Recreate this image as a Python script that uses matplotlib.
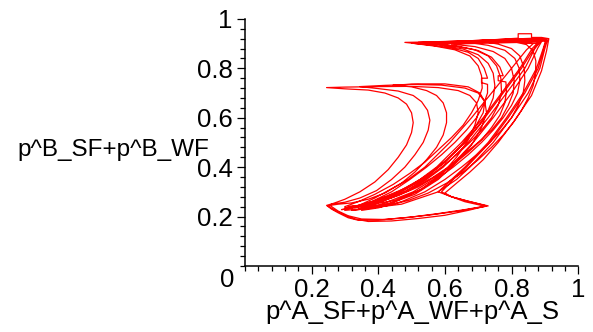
import matplotlib
matplotlib.use("Agg")
import matplotlib.pyplot as plt
from matplotlib.ticker import MultipleLocator

plt.rcParams['font.family'] = ['Liberation Sans', 'DejaVu Sans']

# trajectory, one list of (x, y) points per lap
lap1 = [(0.30, 0.225), (0.36, 0.232), (0.47, 0.25), (0.58, 0.30), (0.635, 0.35), (0.675, 0.40),
        (0.745, 0.50), (0.80, 0.60), (0.85, 0.70), (0.885, 0.80), (0.90, 0.88), (0.908, 0.915),
        (0.88, 0.92), (0.80, 0.917), (0.70, 0.913), (0.60, 0.908), (0.48, 0.905),
        (0.55, 0.895), (0.62, 0.883), (0.67, 0.865), (0.70, 0.84), (0.718, 0.80), (0.728, 0.76),
        (0.71, 0.76), (0.71, 0.742), (0.728, 0.735), (0.728, 0.70), (0.715, 0.65), (0.695, 0.60),
        (0.665, 0.55), (0.63, 0.50), (0.59, 0.45), (0.545, 0.40), (0.495, 0.35), (0.44, 0.30),
        (0.38, 0.26), (0.33, 0.24)]
lap2 = [(0.33, 0.24), (0.37, 0.24), (0.41, 0.25), (0.505, 0.30), (0.565, 0.35), (0.615, 0.40),
        (0.685, 0.50), (0.745, 0.60), (0.80, 0.70), (0.85, 0.80), (0.878, 0.88), (0.89, 0.908),
        (0.85, 0.912), (0.76, 0.908), (0.66, 0.904), (0.56, 0.90),
        (0.63, 0.89), (0.69, 0.875), (0.73, 0.85), (0.755, 0.81), (0.768, 0.76), (0.77, 0.70),
        (0.76, 0.65), (0.74, 0.60), (0.71, 0.55), (0.675, 0.50), (0.635, 0.45), (0.59, 0.40),
        (0.54, 0.35), (0.48, 0.30), (0.42, 0.265), (0.36, 0.245)]
lap3 = [(0.36, 0.245), (0.45, 0.265), (0.53, 0.31), (0.59, 0.37), (0.635, 0.44), (0.67, 0.51),
        (0.69, 0.57), (0.70, 0.62), (0.695, 0.66), (0.675, 0.69), (0.64, 0.71), (0.58, 0.722),
        (0.50, 0.727), (0.40, 0.726), (0.30, 0.724), (0.245, 0.722),
        (0.30, 0.717), (0.37, 0.712), (0.42, 0.70), (0.46, 0.68), (0.485, 0.655), (0.50, 0.62),
        (0.505, 0.58), (0.50, 0.54), (0.485, 0.49), (0.46, 0.44), (0.43, 0.39), (0.39, 0.34),
        (0.345, 0.30), (0.30, 0.27), (0.265, 0.253), (0.245, 0.245),
        (0.26, 0.23), (0.28, 0.215), (0.31, 0.195), (0.34, 0.185), (0.40, 0.186), (0.48, 0.195),
        (0.56, 0.207), (0.64, 0.222), (0.73, 0.243), (0.67, 0.262), (0.62, 0.28), (0.60, 0.295)]
lap4 = [(0.60, 0.295), (0.635, 0.335), (0.675, 0.38), (0.715, 0.43), (0.76, 0.50), (0.81, 0.59),
        (0.86, 0.69), (0.89, 0.79), (0.905, 0.87), (0.912, 0.92),
        (0.89, 0.925), (0.86, 0.925), (0.86, 0.94), (0.82, 0.94), (0.82, 0.922), (0.76, 0.917),
        (0.70, 0.912), (0.76, 0.898), (0.80, 0.88), (0.825, 0.85), (0.838, 0.80), (0.84, 0.75),
        (0.835, 0.70), (0.82, 0.65), (0.80, 0.60), (0.77, 0.55), (0.735, 0.50), (0.695, 0.45),
        (0.65, 0.40), (0.60, 0.35), (0.54, 0.30), (0.47, 0.26), (0.40, 0.235), (0.35, 0.225)]
lap5 = [(0.35, 0.225), (0.43, 0.25), (0.51, 0.29), (0.58, 0.35), (0.635, 0.42), (0.68, 0.49),
        (0.71, 0.56), (0.725, 0.62), (0.72, 0.665), (0.70, 0.70), (0.66, 0.72), (0.59, 0.732),
        (0.50, 0.735), (0.42, 0.731), (0.345, 0.726),
        (0.40, 0.718), (0.46, 0.708), (0.505, 0.69), (0.53, 0.665), (0.548, 0.63), (0.555, 0.59),
        (0.55, 0.55), (0.535, 0.50), (0.51, 0.45), (0.48, 0.40), (0.44, 0.35), (0.395, 0.305),
        (0.345, 0.275), (0.30, 0.258), (0.26, 0.25), (0.25, 0.242),
        (0.27, 0.225), (0.30, 0.205), (0.33, 0.19), (0.37, 0.18), (0.44, 0.182), (0.52, 0.192),
        (0.60, 0.205), (0.67, 0.225), (0.725, 0.243), (0.67, 0.262), (0.62, 0.28), (0.58, 0.30)]
lap6 = [(0.58, 0.30), (0.62, 0.35), (0.66, 0.40), (0.73, 0.50), (0.785, 0.60), (0.835, 0.70),
        (0.875, 0.80), (0.895, 0.88), (0.903, 0.915),
        (0.85, 0.918), (0.76, 0.913), (0.66, 0.907),
        (0.73, 0.893), (0.78, 0.873), (0.81, 0.84), (0.823, 0.80), (0.825, 0.75), (0.818, 0.70),
        (0.80, 0.65), (0.775, 0.60), (0.745, 0.55), (0.71, 0.50), (0.67, 0.45), (0.625, 0.40),
        (0.575, 0.35), (0.515, 0.30), (0.45, 0.26), (0.39, 0.24), (0.34, 0.23)]
lap7 = [(0.34, 0.23), (0.40, 0.26), (0.47, 0.30), (0.54, 0.355), (0.60, 0.42), (0.65, 0.49),
        (0.69, 0.56), (0.715, 0.62), (0.72, 0.665), (0.705, 0.70), (0.67, 0.725), (0.60, 0.737),
        (0.52, 0.737), (0.445, 0.732),
        (0.50, 0.725), (0.545, 0.71), (0.575, 0.69), (0.595, 0.66), (0.605, 0.62), (0.605, 0.58),
        (0.595, 0.53), (0.575, 0.48), (0.545, 0.43), (0.51, 0.38), (0.47, 0.335), (0.42, 0.295),
        (0.37, 0.27), (0.32, 0.255), (0.28, 0.25), (0.255, 0.245),
        (0.28, 0.222), (0.31, 0.203), (0.35, 0.19), (0.42, 0.188), (0.50, 0.198), (0.58, 0.212),
        (0.66, 0.228), (0.72, 0.242), (0.66, 0.26), (0.61, 0.285), (0.59, 0.30)]
lap8 = [(0.59, 0.30), (0.625, 0.35), (0.665, 0.40), (0.735, 0.50), (0.79, 0.60), (0.84, 0.70),
        (0.88, 0.80), (0.897, 0.88), (0.905, 0.918),
        (0.87, 0.922), (0.79, 0.918), (0.68, 0.912), (0.58, 0.908), (0.52, 0.905),
        (0.59, 0.894), (0.655, 0.878), (0.70, 0.855), (0.73, 0.82), (0.745, 0.78), (0.75, 0.73),
        (0.745, 0.68), (0.73, 0.63), (0.71, 0.58), (0.68, 0.53), (0.645, 0.48), (0.605, 0.43),
        (0.56, 0.38), (0.51, 0.335), (0.455, 0.295), (0.40, 0.265), (0.345, 0.245), (0.30, 0.235)]
lap9 = [(0.30, 0.235), (0.33, 0.24), (0.37, 0.25), (0.46, 0.30), (0.525, 0.35), (0.575, 0.40),
        (0.65, 0.50), (0.715, 0.60), (0.77, 0.70), (0.825, 0.80), (0.862, 0.88), (0.878, 0.903),
        (0.89, 0.91), (0.905, 0.912), (0.87, 0.913), (0.80, 0.91),
        (0.845, 0.896), (0.865, 0.87), (0.873, 0.83), (0.872, 0.78), (0.865, 0.73), (0.85, 0.68),
        (0.83, 0.63), (0.805, 0.58), (0.775, 0.53), (0.74, 0.48), (0.70, 0.43), (0.655, 0.38),
        (0.605, 0.335), (0.55, 0.295), (0.49, 0.265), (0.43, 0.245), (0.37, 0.232), (0.32, 0.225)]
lap10 = [(0.32, 0.225), (0.35, 0.23), (0.39, 0.25), (0.48, 0.30), (0.545, 0.35), (0.595, 0.40),
         (0.67, 0.50), (0.73, 0.60), (0.785, 0.70), (0.84, 0.80), (0.87, 0.88), (0.885, 0.905),
         (0.84, 0.91), (0.76, 0.907), (0.66, 0.903), (0.58, 0.90),
         (0.645, 0.888), (0.70, 0.872), (0.74, 0.845), (0.765, 0.805), (0.775, 0.77),
         (0.76, 0.77), (0.76, 0.75), (0.783, 0.745), (0.785, 0.71),
         (0.78, 0.66), (0.765, 0.61), (0.74, 0.56), (0.71, 0.51), (0.67, 0.46), (0.625, 0.41),
         (0.575, 0.365), (0.52, 0.32), (0.46, 0.285), (0.40, 0.26), (0.35, 0.245), (0.31, 0.24)]
lap11 = [(0.31, 0.24), (0.34, 0.245), (0.38, 0.26), (0.42, 0.28), (0.49, 0.32), (0.55, 0.37),
         (0.60, 0.42), (0.66, 0.50), (0.72, 0.60), (0.775, 0.70), (0.83, 0.80), (0.865, 0.875),
         (0.88, 0.90), (0.83, 0.905), (0.73, 0.902), (0.62, 0.898),
         (0.69, 0.888), (0.745, 0.868), (0.78, 0.84), (0.80, 0.80), (0.808, 0.75), (0.805, 0.70),
         (0.79, 0.65), (0.77, 0.60), (0.74, 0.55), (0.70, 0.50), (0.655, 0.45), (0.61, 0.40),
         (0.56, 0.355), (0.50, 0.31), (0.44, 0.275), (0.38, 0.25), (0.33, 0.235), (0.29, 0.228)]
lap12 = [(0.29, 0.228), (0.32, 0.235), (0.35, 0.25), (0.39, 0.275), (0.43, 0.305), (0.49, 0.35),
         (0.54, 0.40), (0.615, 0.50), (0.68, 0.60), (0.74, 0.70), (0.80, 0.80), (0.845, 0.875),
         (0.865, 0.90), (0.82, 0.906), (0.72, 0.905), (0.60, 0.903), (0.50, 0.902),
         (0.57, 0.89), (0.63, 0.875), (0.675, 0.85), (0.70, 0.81), (0.71, 0.77), (0.712, 0.72),
         (0.70, 0.67), (0.68, 0.62), (0.655, 0.57), (0.62, 0.52), (0.58, 0.47), (0.54, 0.42),
         (0.495, 0.375), (0.445, 0.33), (0.39, 0.29), (0.34, 0.26), (0.30, 0.24)]

laps = [lap1, lap2, lap3, lap4, lap5, lap6, lap7, lap8, lap9, lap10, lap11, lap12]
ticks = [0.2, 0.4, 0.6, 0.8, 1]
tick_labels = ['0.2', '0.4', '0.6', '0.8', '1']
xlabel = 'p^A_SF+p^A_WF+p^A_S'
ylabel = 'p^B_SF+p^B_WF'

fig = plt.figure(figsize=(5.93, 3.32), dpi=100)
ax = fig.add_axes([0.413, 0.199, 0.562, 0.744])

xs = [p[0] for lap in laps for p in lap]
ys = [p[1] for lap in laps for p in lap]
ax.plot(xs, ys, color='red', lw=0.9)

ax.set_xlim(0, 1)
ax.set_ylim(0, 1)
for s in ['top', 'right']:
    ax.spines[s].set_visible(False)
for s in ['left', 'bottom']:
    ax.spines[s].set_linewidth(1.1)

ax.set_xticks(ticks)
ax.set_xticklabels(tick_labels)
ax.set_yticks(ticks)
ax.set_yticklabels(tick_labels)
ax.xaxis.set_minor_locator(MultipleLocator(0.04))
ax.yaxis.set_minor_locator(MultipleLocator(0.04))
ax.tick_params(which='major', length=6, width=0.9, labelsize=18.5)
ax.tick_params(which='minor', length=3.5, width=0.9)
ax.tick_params(axis='x', pad=3)
ax.tick_params(axis='y', pad=3)

ax.annotate('0', xy=(0, 0), xytext=(-13, -10), textcoords='offset points',
            ha='center', va='center', fontsize=18.5)
fig.text(0.695, 0.06, xlabel, ha='center', va='center', fontsize=18.5)
fig.text(0.029, 0.548, ylabel, ha='left', va='center', fontsize=17.5)

fig.savefig('out.png', dpi=100)
